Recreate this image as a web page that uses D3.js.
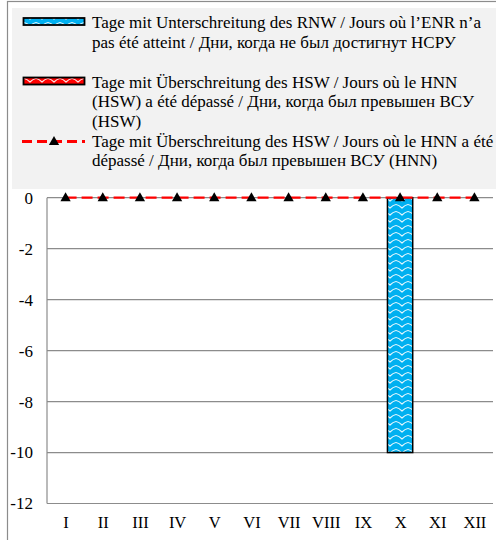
<!DOCTYPE html>
<html><head><meta charset="utf-8">
<script src="https://cdn.jsdelivr.net/npm/d3@7"></script>
<style>body{margin:0;background:#fff}svg{display:block} text{font-family:"Liberation Serif","Times New Roman",serif !important;}</style>
</head><body>
<svg id="c" width="496" height="540"></svg>
<script>
const months = ["I","II","III","IV","V","VI","VII","VIII","IX","X","XI","XII"];
const rnwDays = [0,0,0,0,0,0,0,0,0,-10,0,0];
const hswDays = [0,0,0,0,0,0,0,0,0,0,0,0];
const hnnDays = [0,0,0,0,0,0,0,0,0,0,0,0];
const yTicks = [0,-2,-4,-6,-8,-10,-12];
const legendLabels = [
  ["Tage mit Unterschreitung des RNW / Jours où l’ENR n’a","pas été atteint / Дни, когда не был достигнут НСРУ"],
  ["Tage mit Überschreitung des HSW / Jours où le HNN","(HSW) a été dépassé / Дни, когда был превышен ВСУ","(HSW)"],
  ["Tage mit Überschreitung des HSW / Jours où le HNN a été","dépassé / Дни, когда был превышен ВСУ (HNN)"]
];

const svg = d3.select("#c");
const defs = svg.append("defs");
function wave(id, bg){
  const p = defs.append("pattern").attr("id",id).attr("patternUnits","userSpaceOnUse")
    .attr("width",12).attr("height",7);
  p.append("rect").attr("width",12).attr("height",7).attr("fill",bg);
  p.append("path").attr("d","M0,1.5 Q3,2 6,5 Q9,2 12,1.5").attr("fill","none")
    .attr("stroke","#fff").attr("stroke-width",1.2).attr("opacity",0.9);
}
wave("blueWave","#00b0f0");
wave("redWave","#ff0000");

// outer frame
svg.append("rect").attr("x",7.5).attr("y",1.5).attr("width",520).attr("height",560)
  .attr("fill","none").attr("stroke","#8c8c8c").attr("stroke-width",1.2);
// legend bg
svg.append("rect").attr("x",12).attr("y",8).attr("width",484).attr("height",181).attr("fill","#f2f2f2");

const m = {l:47, r:493, t:197.7, b:503.5};
const x = d3.scaleBand().domain(months).range([m.l,m.r]).paddingInner(0.32).paddingOuter(0.16);
const xc = d3.scalePoint().domain(months).range([m.l,m.r]).padding(0.5);
const y = d3.scaleLinear().domain([-12,0]).range([m.b,m.t]);

// grid
svg.append("g").selectAll("line").data(yTicks).join("line")
  .attr("x1",m.l).attr("x2",m.r).attr("y1",d=>y(d)).attr("y2",d=>y(d))
  .attr("stroke","#8c8c8c").attr("stroke-width",1.2);
svg.append("line").attr("x1",m.l).attr("x2",m.l).attr("y1",m.t).attr("y2",m.b)
  .attr("stroke","#8c8c8c").attr("stroke-width",1.2);

// y axis labels
const ya = svg.append("g").attr("transform",`translate(${m.l},0)`)
  .call(d3.axisLeft(y).tickValues(yTicks).tickSize(0).tickPadding(14).tickFormat(d=>String(d)));
ya.select(".domain").remove();
ya.attr("font-family",null).attr("font-size",null);
ya.selectAll("text").style("font-size","17px").attr("fill","#000");

// x axis labels
const xa = svg.append("g").attr("transform",`translate(0,${m.b})`)
  .call(d3.axisBottom(xc).tickSize(0).tickPadding(13));
xa.select(".domain").remove();
xa.attr("font-family",null).attr("font-size",null);
xa.selectAll("text").style("font-size","16.5px").attr("fill","#000");

// bars
svg.append("g").selectAll("rect").data(months.map((mo,i)=>({mo,v:rnwDays[i]})).filter(d=>d.v!==0)).join("rect")
  .attr("x",d=>x(d.mo)).attr("width",x.bandwidth())
  .attr("y",d=>y(Math.max(0,d.v))).attr("height",d=>Math.abs(y(d.v)-y(0)))
  .attr("fill","url(#blueWave)").attr("stroke","#000").attr("stroke-width",1.5);
svg.append("g").selectAll("rect").data(months.map((mo,i)=>({mo,v:hswDays[i]})).filter(d=>d.v!==0)).join("rect")
  .attr("x",d=>x(d.mo)).attr("width",x.bandwidth())
  .attr("y",d=>y(Math.max(0,d.v))).attr("height",d=>Math.abs(y(d.v)-y(0)))
  .attr("fill","url(#redWave)").attr("stroke","#000").attr("stroke-width",1.5);

// line
const pts = months.map((mo,i)=>[xc(mo), y(hnnDays[i])]);
svg.append("path").attr("d",d3.line()(pts)).attr("fill","none")
  .attr("stroke","#ff0000").attr("stroke-width",2.2).attr("stroke-dasharray","11,5");
const tri = d3.symbol().type(d3.symbolTriangle).size(46);
svg.append("g").selectAll("path").data(pts).join("path")
  .attr("transform",d=>`translate(${d[0]},${d[1]+0.5})`).attr("d",tri).attr("fill","#000");

// legend
const lg = svg.append("g");
lg.append("rect").attr("x",23.5).attr("y",18).attr("width",61).attr("height",7)
  .attr("fill","url(#blueWave)").attr("stroke","#000").attr("stroke-width",1.8);
lg.append("rect").attr("x",23.5).attr("y",77.5).attr("width",61).attr("height",7)
  .attr("fill","url(#redWave)").attr("stroke","#000").attr("stroke-width",1.8);
lg.append("line").attr("x1",22).attr("x2",85).attr("y1",141.5).attr("y2",141.5)
  .attr("stroke","#ff0000").attr("stroke-width",3).attr("stroke-dasharray","10,5");
lg.append("path").attr("transform","translate(54,142)").attr("d",tri).attr("fill","#000");
const starts = [28, 87.5, 146.7];
legendLabels.forEach((lines,i)=>{
  const t = lg.append("text").style("font-size","17px").attr("fill","#000");
  lines.forEach((s,j)=>t.append("tspan").attr("x",92).attr("y",starts[i]+j*19.6).text(s));
});
</script>
</body></html>
